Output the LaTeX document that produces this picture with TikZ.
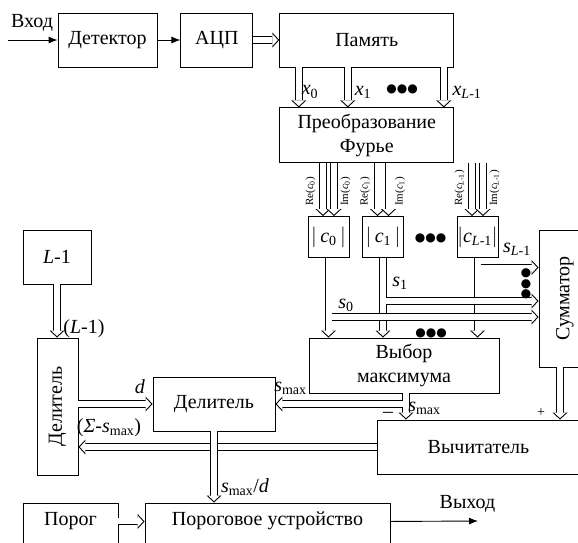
\documentclass[tikz,border=0pt]{standalone}
\usepackage{fontspec}
\setmainfont{Liberation Serif}
\newfontfamily\dejavu{DejaVu Sans}
\usetikzlibrary{positioning,arrows.meta}

\begin{document}
\begin{tikzpicture}[x=1pt, y=-1pt, every node/.style={font=\fontsize{20}{24}\selectfont}]
\tikzstyle{box}=[draw, line width=0.9pt, inner sep=0pt, align=center]
\tikzstyle{dbl}=[line width=7.8pt, -{Triangle[length=7pt,width=15pt,line width=0pt]},
  postaction={draw=white, line width=6pt, shorten >=1.5pt, -{Triangle[length=5.5pt,width=12pt,line width=0pt]}}]
\tikzstyle{sgl}=[line width=0.9pt, -{Latex[length=9pt,width=7pt]}]
\tikzstyle{lbl}=[inner sep=0pt]
\tikzstyle{tiny}=[inner sep=0pt, rotate=90, anchor=west, font=\fontsize{11}{11}\selectfont]
\tikzstyle{dots}=[inner sep=0pt, font=\dejavu\fontsize{12}{12}\selectfont]
\clip (0,0) rectangle (578,542);
% blocks
\node[box, minimum width=99pt, minimum height=54pt] (det) at (107.5,40) {Детектор};
\node[box, minimum width=72pt, minimum height=54pt, right=23pt of det] (adc) {АЦП};
\node[box, minimum width=174pt, minimum height=54pt, right=26pt of adc] (mem) {Память};
\node[box, minimum width=174pt, minimum height=55pt, below=40pt of mem] (fft) {Преобразование\\Фурье};
\node[box, minimum size=41pt] (c0) at (328.5,237) {$\bigg|$\,\textit{c}\textsubscript{0}\,$\bigg|$};
\node[box, minimum size=41pt] (c1) at (383,237) {$\bigg|$\,\textit{c}\textsubscript{1}\,$\bigg|$};
\node[box, minimum size=41pt] (cL) at (477.5,237) {$\bigg|$\textit{c}\textsubscript{\textit{L}-1}$\bigg|$};
\node[box, minimum width=52pt, minimum height=137pt] (sum) at (565,298.5) {\rotatebox{90}{Сумматор}};
\node[box, minimum width=190pt, minimum height=55pt] (max) at (404,365.5) {Выбор\\максимума};
\node[box, minimum width=203pt, minimum height=54pt] (sub) at (478.5,447) {Вычитатель};
\node[box, minimum width=122pt, minimum height=54pt] (div) at (214,404) {Делитель};
\node[box, minimum width=41pt, minimum height=137pt] (divL) at (57.5,406.5) {\rotatebox{90}{Делитель}};
\node[box, minimum width=68pt, minimum height=54pt] (lm1) at (57,257) {\textit{L}-1};
\node[box, minimum width=95pt, text height=23pt, text depth=20pt, anchor=north] (thr) at (70.5,502.5) {Порог};
\node[box, minimum width=245pt, text height=23pt, text depth=20pt, anchor=north] (dev) at (267.5,502.5) {Пороговое устройство};
\coordinate (in) at (8,40);
\coordinate (out) at (478,521);
\coordinate (b0) at (328.5,317);
\coordinate (b1) at (383,301);
\coordinate (bL) at (477.5,267.5);
\coordinate (bm) at (406,404);
% input chain
\draw[sgl] (in) -- (det);
\draw[sgl] (det) -- (adc);
\draw[dbl] (adc) -- (mem);
\foreach \dx in {-68,-19,77}
  \draw[dbl] ([xshift=\dx pt]mem.south) -- ([xshift=\dx pt]fft.north);
% Re / Im
\foreach \n/\s in {c0/0, c1/1, cL/{\textit{L}-1}} {
  \draw[dbl] ([xshift=-5.5pt]\n.north |- fft.south) -- ([xshift=-5.5pt]\n.north);
  \draw[dbl] ([xshift=5.5pt]\n.north |- fft.south) -- ([xshift=5.5pt]\n.north);
  \node[tiny] at ([xshift=-18pt,yshift=10pt]\n.north) {Re(\textit{c}\textsubscript{\s})};
  \node[tiny] at ([xshift=17pt,yshift=10pt]\n.north) {Im(\textit{c}\textsubscript{\s})};
}
\foreach \n in {c0,c1,cL}
  \draw[dbl] (\n.south) -- (\n.south |- max.north);
\foreach \b in {b0,b1,bL}
  \draw[dbl] ([xshift=3pt]\b) -- (\b -| sum.west);
% outputs
\draw[dbl] ([xshift=-5pt]sum.south) -- ([xshift=-5pt]sum.south |- sub.north);
\draw[dbl] ([xshift=2pt]max.south) -- ([xshift=2pt]max.south |- sub.north);
\draw[dbl] ([xshift=-3pt]bm) -- (bm -| div.east);
\draw[dbl] (divL.east |- div.west) -- (div.west);
\draw[dbl] (sub.west) -- (sub.west -| divL.east);
\draw[dbl] (lm1.south) -- (lm1.south |- divL.north);
\draw[dbl] (div.south) -- (div.south |- dev.north);
\draw[dbl] ([yshift=3pt]thr.east) -- ([yshift=3pt]thr.east -| dev.west);
\draw[sgl] ([yshift=3pt]dev.east) -- (out);
% labels
\node[lbl] (inl) at (32,23) {Вход};
\node[lbl] (outl) at (467.5,503.5) {Выход};
\node[lbl] at (310,92) {\textit{x}\textsubscript{0}};
\node[lbl] at (363,92) {\textit{x}\textsubscript{1}};
\node[lbl] at (467,92) {\textit{x}\textsubscript{\textit{L}-1}};
\node[lbl] at (517,249) {\textit{s}\textsubscript{\textit{L}-1}};
\node[lbl] at (400,283) {\textit{s}\textsubscript{1}};
\node[lbl] at (346,305) {\textit{s}\textsubscript{0}};
\node[lbl] at (290.5,388) {\textit{s}\textsubscript{max}};
\node[lbl] at (424.5,408) {\textit{s}\textsubscript{max}};
\node[lbl] at (140,387) {\textit{d}};
\node[lbl] at (109,428) {(\textit{Σ}-\textit{s}\textsubscript{max})};
\node[lbl] at (84,329) {(\textit{L}-1)};
\node[lbl] at (245,487) {\textit{s}\textsubscript{max}/\textit{d}};
\node[lbl] at (388,415) {–};
\node[lbl, font=\fontsize{14}{14}\selectfont] at (541,413) {+};
\node[dots] at (402,89) {●●●};
\node[dots] at (430.5,238) {●●●};
\node[dots] at (431,333) {●●●};
\node[dots, rotate=90] at (526,284) {●●●};
\end{tikzpicture}
\end{document}
